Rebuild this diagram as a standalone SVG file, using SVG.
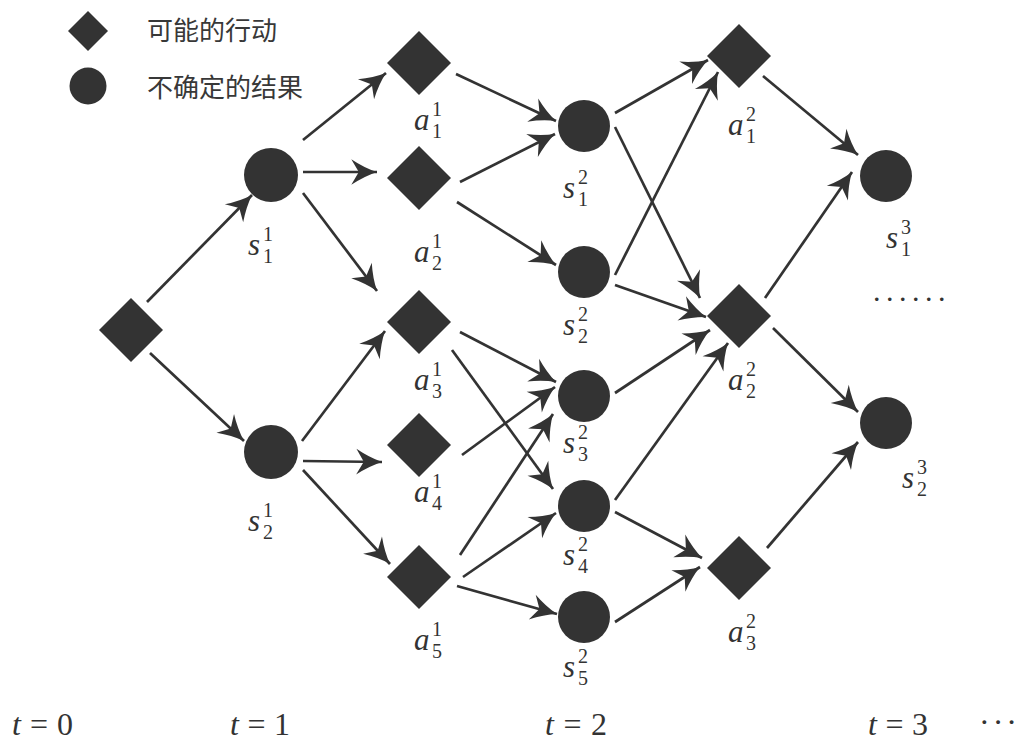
<svg xmlns="http://www.w3.org/2000/svg" xmlns:xlink="http://www.w3.org/1999/xlink" width="1021" height="746" viewBox="0 0 1021 746">
<defs>
<style>
.edge{stroke:#333;stroke-width:2.7;fill:none;marker-end:url(#ah)}
.fill{fill:#333}
.m{font-family:"Liberation Serif","Times New Roman",serif;font-style:italic;font-size:31px;fill:#333}
.sc{font-family:"Liberation Serif","Times New Roman",serif;font-size:20px;fill:#333}
.t{font-family:"Liberation Serif","Times New Roman",serif;font-size:32px;fill:#333}
.lg{font-family:"Noto Sans CJK SC",sans-serif;font-size:26px;fill:#383838}
</style>
<marker id="ah" markerUnits="userSpaceOnUse" markerWidth="30" markerHeight="30" viewBox="-26 -13 28 26" refX="0" refY="0" orient="auto">
<path d="M0,0 Q-12,-4 -24,-12 L-17,0 L-24,12 Q-12,4 0,0Z" fill="#333"/>
</marker>
<path id="dia" d="M0,-32 L32,0 L0,32 L-32,0Z"/>
</defs>
<rect width="1021" height="746" fill="#fff"/>

<g id="legend">
<path class="fill" d="M88,11 L108,31 L88,51 L68,31Z"/>
<circle class="fill" cx="88" cy="86" r="18.5"/>
<text class="lg" x="147" y="40">可能的行动</text>
<text class="lg" x="147" y="97">不确定的结果</text>
</g>

<g id="connectors">
<line class="edge" x1="147" y1="302" x2="252" y2="195"/>
<line class="edge" x1="150" y1="353" x2="244" y2="441"/>
<line class="edge" x1="303" y1="140" x2="386" y2="73"/>
<line class="edge" x1="303" y1="172" x2="377" y2="172"/>
<line class="edge" x1="303" y1="193" x2="377" y2="291"/>
<line class="edge" x1="302" y1="441" x2="385" y2="331"/>
<line class="edge" x1="303" y1="461" x2="382" y2="462"/>
<line class="edge" x1="303" y1="470" x2="390" y2="564"/>
<line class="edge" x1="456" y1="74" x2="556" y2="121"/>
<line class="edge" x1="460" y1="182" x2="555" y2="134"/>
<line class="edge" x1="457" y1="202" x2="556" y2="265"/>
<line class="edge" x1="460" y1="332" x2="556" y2="382"/>
<line class="edge" x1="452" y1="350" x2="553" y2="489"/>
<line class="edge" x1="462" y1="455" x2="555" y2="387"/>
<line class="edge" x1="460" y1="555" x2="553" y2="414"/>
<line class="edge" x1="463" y1="577" x2="556" y2="513"/>
<line class="edge" x1="457" y1="586" x2="557" y2="614"/>
<line class="edge" x1="615" y1="113" x2="708" y2="60"/>
<line class="edge" x1="615" y1="127" x2="700" y2="298"/>
<line class="edge" x1="615" y1="275" x2="718" y2="72"/>
<line class="edge" x1="615" y1="285" x2="706" y2="317"/>
<line class="edge" x1="615" y1="393" x2="710" y2="330"/>
<line class="edge" x1="615" y1="500" x2="728" y2="343"/>
<line class="edge" x1="615" y1="512" x2="702" y2="558"/>
<line class="edge" x1="615" y1="622" x2="700" y2="567"/>
<line class="edge" x1="763" y1="76" x2="858" y2="155"/>
<line class="edge" x1="765" y1="298" x2="852" y2="172"/>
<line class="edge" x1="773" y1="328" x2="858" y2="412"/>
<line class="edge" x1="767" y1="548" x2="858" y2="442"/>
</g>

<g id="a0"><use xlink:href="#dia" class="fill" x="131" y="330"/></g>

<g id="s1_1"><circle class="fill" cx="271" cy="175" r="27"/>
<text class="m" x="248" y="255">s</text><text class="sc" x="263" y="241">1</text><text class="sc" x="263" y="263">1</text></g>
<g id="s2_1"><circle class="fill" cx="271" cy="452" r="27"/>
<text class="m" x="248" y="531">s</text><text class="sc" x="263" y="517">1</text><text class="sc" x="263" y="539">2</text></g>

<g id="a1_1"><use xlink:href="#dia" class="fill" x="419" y="63"/>
<text class="m" x="414" y="130">a</text><text class="sc" x="432" y="116">1</text><text class="sc" x="432" y="138">1</text></g>
<g id="a2_1"><use xlink:href="#dia" class="fill" x="419" y="178"/>
<text class="m" x="414" y="262">a</text><text class="sc" x="432" y="248">1</text><text class="sc" x="432" y="270">2</text></g>
<g id="a3_1"><use xlink:href="#dia" class="fill" x="419" y="322"/>
<text class="m" x="414" y="390">a</text><text class="sc" x="432" y="376">1</text><text class="sc" x="432" y="398">3</text></g>
<g id="a4_1"><use xlink:href="#dia" class="fill" x="419" y="445"/>
<text class="m" x="414" y="502">a</text><text class="sc" x="432" y="488">1</text><text class="sc" x="432" y="510">4</text></g>
<g id="a5_1"><use xlink:href="#dia" class="fill" x="419" y="577"/>
<text class="m" x="414" y="650">a</text><text class="sc" x="432" y="636">1</text><text class="sc" x="432" y="658">5</text></g>

<g id="s1_2"><circle class="fill" cx="584" cy="126" r="26"/>
<text class="m" x="563" y="198">s</text><text class="sc" x="578" y="184">2</text><text class="sc" x="578" y="206">1</text></g>
<g id="s2_2"><circle class="fill" cx="584" cy="272" r="26"/>
<text class="m" x="563" y="335">s</text><text class="sc" x="578" y="321">2</text><text class="sc" x="578" y="343">2</text></g>
<g id="s3_2"><circle class="fill" cx="584" cy="396" r="26"/>
<text class="m" x="563" y="453">s</text><text class="sc" x="578" y="439">2</text><text class="sc" x="578" y="461">3</text></g>
<g id="s4_2"><circle class="fill" cx="584" cy="506" r="26"/>
<text class="m" x="563" y="565">s</text><text class="sc" x="578" y="551">2</text><text class="sc" x="578" y="573">4</text></g>
<g id="s5_2"><circle class="fill" cx="584" cy="617" r="26"/>
<text class="m" x="563" y="677">s</text><text class="sc" x="578" y="663">2</text><text class="sc" x="578" y="685">5</text></g>

<g id="a1_2"><use xlink:href="#dia" class="fill" x="739" y="56"/>
<text class="m" x="728" y="135">a</text><text class="sc" x="746" y="121">2</text><text class="sc" x="746" y="143">1</text></g>
<g id="a2_2"><use xlink:href="#dia" class="fill" x="739" y="316"/>
<text class="m" x="728" y="390">a</text><text class="sc" x="746" y="376">2</text><text class="sc" x="746" y="398">2</text></g>
<g id="a3_2"><use xlink:href="#dia" class="fill" x="739" y="568"/>
<text class="m" x="728" y="642">a</text><text class="sc" x="746" y="628">2</text><text class="sc" x="746" y="650">3</text></g>

<g id="s1_3"><circle class="fill" cx="886" cy="176" r="26"/>
<text class="m" x="886" y="248">s</text><text class="sc" x="901" y="234">3</text><text class="sc" x="901" y="256">1</text></g>
<g id="s2_3"><circle class="fill" cx="886" cy="423" r="26"/>
<text class="m" x="902" y="488">s</text><text class="sc" x="917" y="474">3</text><text class="sc" x="917" y="496">2</text></g>

<text class="t" x="873" y="301" style="font-size:30px;letter-spacing:5.5px">......</text>

<g id="time">
<text class="t" x="12" y="735" textLength="61" lengthAdjust="spacing"><tspan font-style="italic">t</tspan>=0</text>
<text class="t" x="230" y="735" textLength="60" lengthAdjust="spacing"><tspan font-style="italic">t</tspan>=1</text>
<text class="t" x="545" y="735" textLength="62" lengthAdjust="spacing"><tspan font-style="italic">t</tspan>=2</text>
<text class="t" x="868" y="735" textLength="60" lengthAdjust="spacing"><tspan font-style="italic">t</tspan>=3</text>
<text class="t" x="979" y="733" style="letter-spacing:3px">···</text>
</g>
</svg>
